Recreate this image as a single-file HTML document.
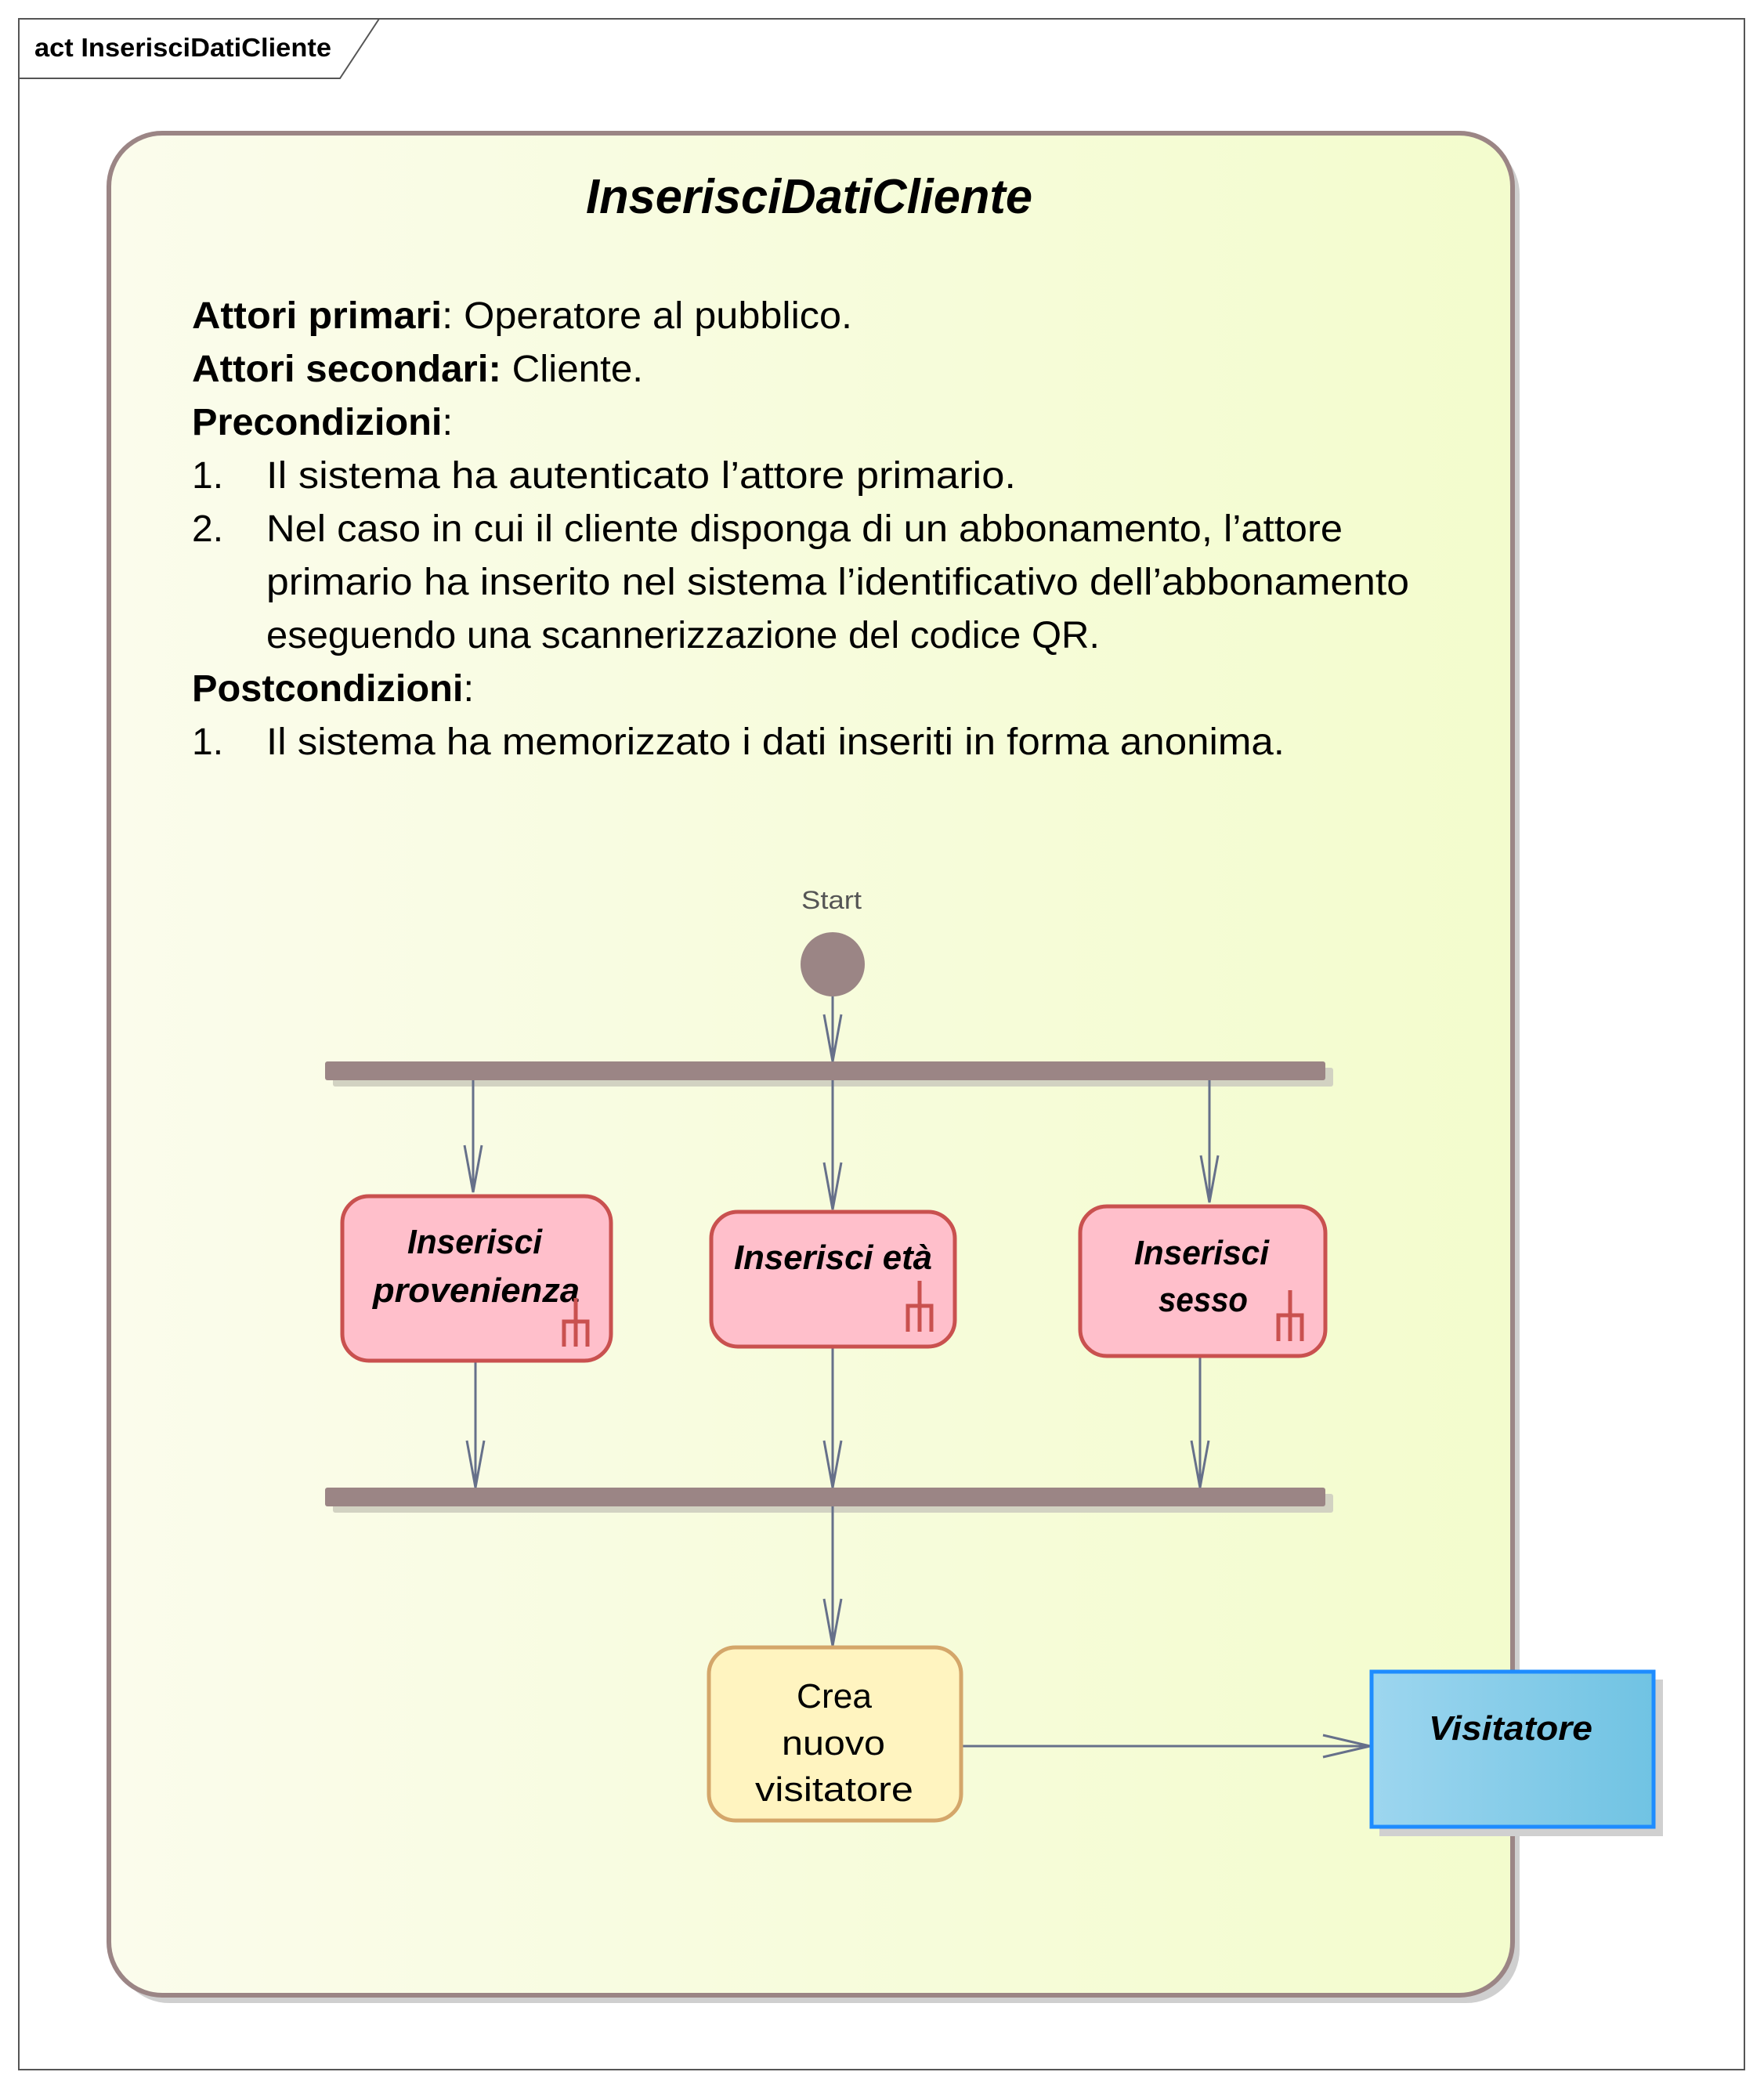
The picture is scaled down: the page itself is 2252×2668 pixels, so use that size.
<!DOCTYPE html>
<html><head><meta charset="utf-8"><style>html,body{margin:0;padding:0;background:#fff}svg{display:block}</style></head>
<body>
<svg width="2252" height="2668" viewBox="0 0 2252 2668" xmlns="http://www.w3.org/2000/svg" font-family="'Liberation Sans', sans-serif">
<defs>
<linearGradient id="bg" x1="0" x2="1" y1="0" y2="0"><stop offset="0" stop-color="#fbfcec"/><stop offset="1" stop-color="#f3fccd"/></linearGradient>
<linearGradient id="vb" x1="0" x2="1" y1="0" y2="0"><stop offset="0" stop-color="#9dd6ef"/><stop offset="1" stop-color="#70c3e3"/></linearGradient>
</defs>
<rect x="24" y="24" width="2203" height="2618" fill="none" stroke="#555" stroke-width="2"/>
<polyline points="24,100 434,100 484,24" fill="none" stroke="#555" stroke-width="2"/>
<text x="44" y="72" font-size="33" font-weight="bold" textLength="379" lengthAdjust="spacingAndGlyphs">act InserisciDatiCliente</text>

<rect x="148" y="180" width="1792" height="2377" rx="68" fill="#cfcfcf"/>
<rect x="139" y="170" width="1792" height="2377" rx="68" fill="url(#bg)" stroke="#9b8585" stroke-width="6"/>
<text x="748" y="272" font-size="62" font-weight="bold" font-style="italic" textLength="570" lengthAdjust="spacingAndGlyphs">InserisciDatiCliente</text>

<g font-size="48" fill="#000">
<text x="245" y="419" textLength="843" lengthAdjust="spacingAndGlyphs"><tspan font-weight="bold">Attori primari</tspan>: Operatore al pubblico.</text>
<text x="245" y="487" textLength="576" lengthAdjust="spacingAndGlyphs"><tspan font-weight="bold">Attori secondari:</tspan> Cliente.</text>
<text x="245" y="555" textLength="333" lengthAdjust="spacingAndGlyphs"><tspan font-weight="bold">Precondizioni</tspan>:</text>
<text x="245" y="623">1.</text>
<text x="340" y="623" textLength="957" lengthAdjust="spacingAndGlyphs">Il sistema ha autenticato l’attore primario.</text>
<text x="245" y="691">2.</text>
<text x="340" y="691" textLength="1374" lengthAdjust="spacingAndGlyphs">Nel caso in cui il cliente disponga di un abbonamento, l’attore</text>
<text x="340" y="759" textLength="1459" lengthAdjust="spacingAndGlyphs">primario ha inserito nel sistema l’identificativo dell’abbonamento</text>
<text x="340" y="827" textLength="1064" lengthAdjust="spacingAndGlyphs">eseguendo una scannerizzazione del codice QR.</text>
<text x="245" y="895" textLength="360" lengthAdjust="spacingAndGlyphs"><tspan font-weight="bold">Postcondizioni</tspan>:</text>
<text x="245" y="963">1.</text>
<text x="340" y="963" textLength="1300" lengthAdjust="spacingAndGlyphs">Il sistema ha memorizzato i dati inseriti in forma anonima.</text>
</g>

<text x="1023" y="1160" font-size="32" fill="#555" textLength="77" lengthAdjust="spacingAndGlyphs">Start</text>
<circle cx="1063" cy="1231" r="41" fill="#9b8585"/>

<!-- bars -->
<rect x="425" y="1363" width="1277" height="24" rx="3" fill="#d2d2c2"/>
<rect x="415" y="1355" width="1277" height="24" rx="3" fill="#9b8585"/>
<rect x="425" y="1907" width="1277" height="24" rx="3" fill="#d2d2c2"/>
<rect x="415" y="1899" width="1277" height="24" rx="3" fill="#9b8585"/>

<g stroke="#66708a" stroke-width="3" fill="none">
<line x1="1063" y1="1272" x2="1063" y2="1355"/><polyline points="1052,1295 1063,1355 1074,1295"/>
<line x1="604" y1="1379" x2="604" y2="1522"/><polyline points="593,1462 604,1522 615,1462"/>
<line x1="1063" y1="1379" x2="1063" y2="1544"/><polyline points="1052,1484 1063,1544 1074,1484"/>
<line x1="1544" y1="1379" x2="1544" y2="1535"/><polyline points="1533,1475 1544,1535 1555,1475"/>
<line x1="607" y1="1737" x2="607" y2="1899"/><polyline points="596,1839 607,1899 618,1839"/>
<line x1="1063" y1="1719" x2="1063" y2="1899"/><polyline points="1052,1839 1063,1899 1074,1839"/>
<line x1="1532" y1="1731" x2="1532" y2="1899"/><polyline points="1521,1839 1532,1899 1543,1839"/>
<line x1="1063" y1="1923" x2="1063" y2="2101"/><polyline points="1052,2041 1063,2101 1074,2041"/>
<line x1="1227" y1="2229" x2="1749" y2="2229"/><polyline points="1689,2215 1749,2229 1689,2243"/>
</g>

<!-- actions -->
<g fill="#ffbfcb" stroke="#c9514f" stroke-width="5">
<rect x="437" y="1527" width="343" height="210" rx="34"/>
<rect x="908" y="1547" width="311" height="172" rx="34"/>
<rect x="1379" y="1540" width="313" height="191" rx="34"/>
</g>
<g font-size="44" font-weight="bold" font-style="italic" fill="#000">
<text x="520" y="1600" textLength="172" lengthAdjust="spacingAndGlyphs">Inserisci</text>
<text x="476" y="1662" textLength="264" lengthAdjust="spacingAndGlyphs">provenienza</text>
<text x="937" y="1620" textLength="253" lengthAdjust="spacingAndGlyphs">Inserisci età</text>
<text x="1448" y="1614" textLength="172" lengthAdjust="spacingAndGlyphs">Inserisci</text>
<text x="1479" y="1674" textLength="114" lengthAdjust="spacingAndGlyphs">sesso</text>
</g>
<g stroke="#c9514f" stroke-width="5" fill="none">
<path d="M735,1657 V1719 M720,1719 V1687 H750 V1719"/>
<path d="M1174,1635 V1700 M1159,1700 V1667 H1189 V1700"/>
<path d="M1647,1647 V1712 M1632,1712 V1679 H1662 V1712"/>
</g>

<rect x="905" y="2103" width="322" height="221" rx="34" fill="#fff4c0" stroke="#d4a66a" stroke-width="5"/>
<g font-size="44" fill="#000">
<text x="1017" y="2180" textLength="96" lengthAdjust="spacingAndGlyphs">Crea</text>
<text x="998" y="2240" textLength="132" lengthAdjust="spacingAndGlyphs">nuovo</text>
<text x="964" y="2299" textLength="202" lengthAdjust="spacingAndGlyphs">visitatore</text>
</g>

<rect x="1761" y="2144" width="362" height="200" fill="#d0d0d0"/>
<rect x="1751" y="2134" width="360" height="198" fill="url(#vb)" stroke="#1e8cff" stroke-width="5"/>
<text x="1824" y="2221" font-size="44" font-weight="bold" font-style="italic" textLength="209" lengthAdjust="spacingAndGlyphs">Visitatore</text>
</svg>
</body></html>
